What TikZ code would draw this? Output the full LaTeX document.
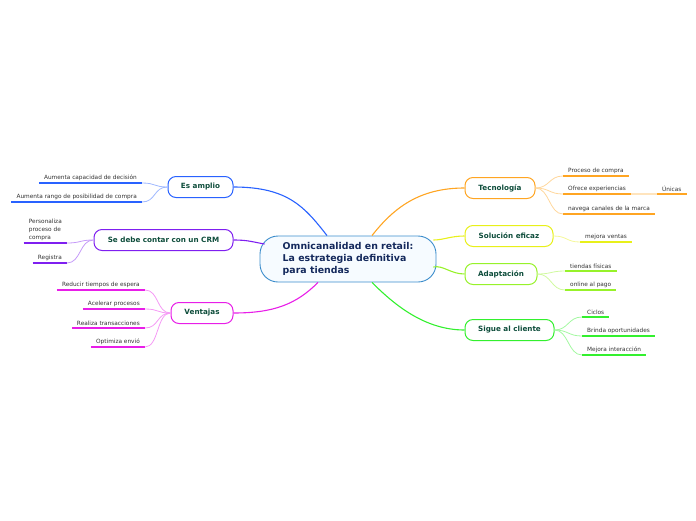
\documentclass[tikz,border=0pt]{standalone}
\usepackage{fontspec}
\setmainfont{DejaVu Sans}
\usetikzlibrary{calc}

\definecolor{rootline}{HTML}{3C8DCC}
\definecolor{rootfill}{HTML}{F6FBFF}
\definecolor{roottxt}{HTML}{14295C}
\definecolor{topictxt}{HTML}{0E4D3B}
\definecolor{leaftxt}{HTML}{333333}
\definecolor{cblue}{HTML}{2962FF}
\definecolor{cpurple}{HTML}{7F1FF0}
\definecolor{cmag}{HTML}{E81EE8}
\definecolor{corange}{HTML}{FFA522}
\definecolor{cyellow}{HTML}{E8F01A}
\definecolor{clime}{HTML}{97F22A}
\definecolor{cgreen}{HTML}{33F02E}

\begin{document}
\begin{tikzpicture}[
    x=1pt, y=-1pt,
    root/.style={draw=rootline, fill=rootfill, line width=0.9pt, rounded corners=18pt,
        minimum width=176pt, minimum height=46pt, align=left, text=roottxt,
        font=\bfseries\fontsize{9.4}{12}\selectfont},
    topic/.style={draw=#1, fill=white, line width=1pt, rounded corners=8pt,
        minimum height=21pt, inner sep=2pt, text=topictxt,
        font=\bfseries\fontsize{7.2}{8}\selectfont},
    leaf/.style={inner xsep=5pt, inner ysep=2.5pt, text=leaftxt, align=left,
        font=\fontsize{5.8}{7.6}\selectfont,
        append after command={(\tikzlastnode.south west) edge[draw=#1, line width=1.4pt] (\tikzlastnode.south east)}},
    branch/.style={draw=#1, line width=1.1pt},
    twig/.style={draw=#1!45, line width=0.8pt}
]
    \useasboundingbox (0,0) rectangle (696,520);

    % centro
    \node[root] (root) at (348,259) {Omnicanalidad en retail:\\La estrategia definitiva\\para tiendas};

    % ramas principales
    \node[topic=cblue, minimum width=65pt] (es) at (200.5,187) {Es amplio};
    \node[topic=cpurple, minimum width=139pt] (crm) at (163.5,240) {Se debe contar con un CRM};
    \node[topic=cmag, minimum width=62pt] (ven) at (202,313) {Ventajas};
    \node[topic=corange, minimum width=70pt] (tec) at (500,188) {Tecnología};
    \node[topic=cyellow, minimum width=88pt] (sol) at (509,236) {Solución eficaz};
    \node[topic=clime, minimum width=72pt] (ada) at (501,274) {Adaptación};
    \node[topic=cgreen, minimum width=89pt] (sig) at (509.5,330) {Sigue al cliente};

    \draw[branch=cblue] (es.east) .. controls +(55,0) and +(-22,-28) .. ($(root.north)+(-21,0)$);
    \draw[branch=cpurple] (crm.east) .. controls +(15,0) and +(-12,-2) .. ($(root.west)+(5,-15)$);
    \draw[branch=cmag] (ven.east) .. controls +(40,0) and +(-22,22) .. ($(root.south)+(-30,0)$);
    \draw[branch=corange] (tec.west) .. controls +(-45,0) and +(22,-28) .. ($(root.north)+(24,0)$);
    \draw[branch=cyellow] (sol.west) .. controls +(-14,0) and +(10,0) .. ($(root.east)+(-3,-19)$);
    \draw[branch=clime] (ada.west) .. controls +(-14,0) and +(10,-2) .. ($(root.east)+(-3,8)$);
    \draw[branch=cgreen] (sig.west) .. controls +(-40,0) and +(22,22) .. ($(root.south)+(24,0)$);

    % hojas: Es amplio
    \node[leaf=cblue, anchor=south east] (dec) at (142,183) {Aumenta capacidad de decisión};
    \node[leaf=cblue, anchor=south east] (ran) at (142,202) {Aumenta rango de posibilidad de compra};
    \foreach \n in {dec,ran}
        \draw[twig=cblue] (es.west) .. controls +(-14,0) and +(14,0) .. (\n.south east);

    % hojas: CRM
    \node[leaf=cpurple, anchor=south east] (per) at (67,243) {Personaliza\\proceso de\\compra};
    \node[leaf=cpurple, anchor=south east] (reg) at (67,263) {Registra};
    \foreach \n in {per,reg}
        \draw[twig=cpurple] (crm.west) .. controls +(-14,0) and +(14,0) .. (\n.south east);

    % hojas: Ventajas
    \node[leaf=cmag, anchor=south east] (red) at (145,290) {Reducir tiempos de espera};
    \node[leaf=cmag, anchor=south east] (ace) at (145,309) {Acelerar procesos};
    \node[leaf=cmag, anchor=south east] (rea) at (145,328) {Realiza transacciones};
    \node[leaf=cmag, anchor=south east] (opt) at (145,347) {Optimiza envió};
    \foreach \n in {red,ace,rea,opt}
        \draw[twig=cmag] (ven.west) .. controls +(-14,0) and +(14,0) .. (\n.south east);

    % hojas: Tecnología
    \node[leaf=corange, anchor=south west] (pro) at (563,176) {Proceso de compra};
    \node[leaf=corange, anchor=south west] (ofr) at (563,194) {Ofrece experiencias};
    \node[leaf=corange, anchor=south west] (nav) at (563,214) {navega canales de la marca};
    \node[leaf=corange, anchor=south west] (uni) at (657,194) {Únicas};
    \foreach \n in {pro,ofr,nav}
        \draw[twig=corange] (tec.east) .. controls +(14,0) and +(-14,0) .. (\n.south west);
    \draw[draw=corange!30, line width=1.4pt] (ofr.south east) -- (uni.south west);

    % hojas: Solución eficaz
    \node[leaf=cyellow, anchor=south west] (mej) at (580,242) {mejora ventas};
    \draw[twig=cyellow] (sol.east) .. controls +(14,0) and +(-14,0) .. (mej.south west);

    % hojas: Adaptación
    \node[leaf=clime, anchor=south west] (tie) at (565,271) {tiendas físicas};
    \node[leaf=clime, anchor=south west] (onl) at (565,290) {online al pago};
    \foreach \n in {tie,onl}
        \draw[twig=clime] (ada.east) .. controls +(14,0) and +(-14,0) .. (\n.south west);

    % hojas: Sigue al cliente
    \node[leaf=cgreen, anchor=south west] (cic) at (582,317) {Ciclos};
    \node[leaf=cgreen, anchor=south west] (bri) at (582,336) {Brinda oportunidades};
    \node[leaf=cgreen, anchor=south west] (int) at (582,355) {Mejora interacción};
    \foreach \n in {cic,bri,int}
        \draw[twig=cgreen] (sig.east) .. controls +(14,0) and +(-14,0) .. (\n.south west);
\end{tikzpicture}
\end{document}
